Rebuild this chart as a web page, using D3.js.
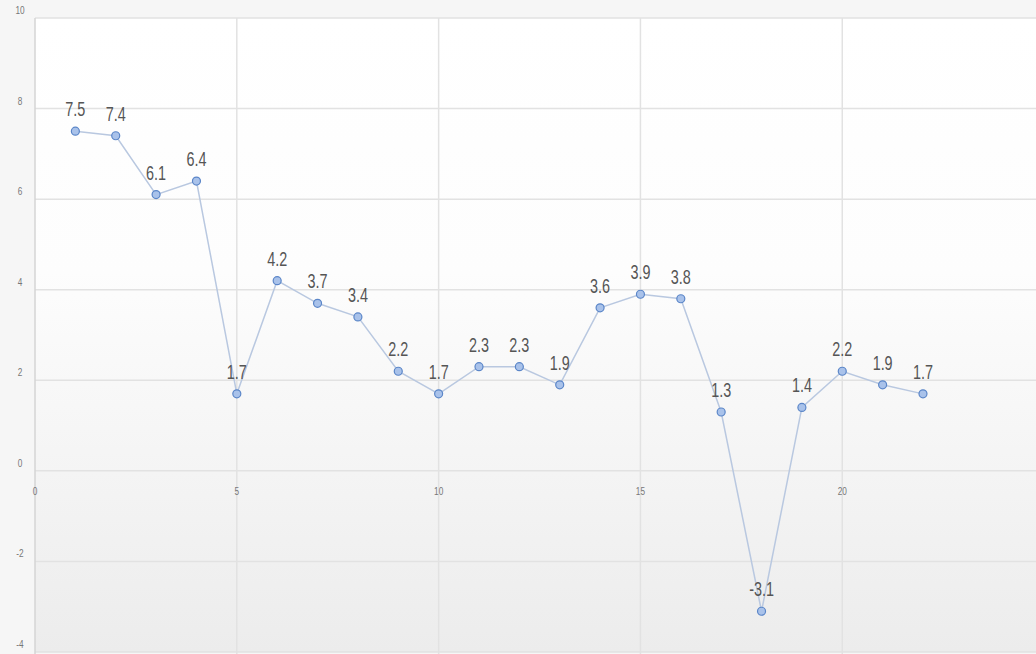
<!DOCTYPE html>
<meta charset="utf-8">
<style>
  body { margin: 0; background: #f6f6f6; }
</style>
<script src="https://d3js.org/d3.v7.min.js"></script>
<div id="chart"></div>
<script>
  // data
  var xs = [1,2,3,4,5,6,7,8,9,10,11,12,13,14,15,16,17,18,19,20,21,22];
  var values = [7.5,7.4,6.1,6.4,1.7,4.2,3.7,3.4,2.2,1.7,2.3,2.3,1.9,3.6,3.9,3.8,1.3,-3.1,1.4,2.2,1.9,1.7];
  var xTicks = [0,5,10,15,20];
  var yTicks = [-4,-2,0,2,4,6,8,10];

  var W = 1036, H = 654;
  var margin = {top: 18, right: 0, bottom: 2, left: 35};

  var svg = d3.select("#chart").append("svg")
      .attr("width", W).attr("height", H);

  var x = d3.scaleLinear().domain([0, 24.8]).range([margin.left, W - margin.right]);
  var y = d3.scaleLinear().domain([-4, 10]).range([H - margin.bottom, margin.top]);

  // background gradient
  var defs = svg.append("defs");
  var grad = defs.append("linearGradient").attr("id", "bg")
      .attr("x1", 0).attr("y1", 0).attr("x2", 0).attr("y2", 1);
  grad.append("stop").attr("offset", "0%").attr("stop-color", "#ffffff");
  grad.append("stop").attr("offset", "40%").attr("stop-color", "#fdfdfd");
  grad.append("stop").attr("offset", "100%").attr("stop-color", "#ececec");

  svg.append("rect")
      .attr("x", margin.left).attr("y", margin.top)
      .attr("width", W - margin.left - margin.right)
      .attr("height", H - margin.top - margin.bottom)
      .attr("fill", "url(#bg)");

  // grid lines
  svg.append("g").selectAll("line.h")
    .data(yTicks).enter().append("line")
      .attr("x1", margin.left).attr("x2", W)
      .attr("y1", function(d) { return y(d); })
      .attr("y2", function(d) { return y(d); })
      .attr("stroke", "#e2e2e2").attr("stroke-width", 1.5);

  svg.append("g").selectAll("line.v")
    .data(xTicks).enter().append("line")
      .attr("x1", function(d) { return x(d); })
      .attr("x2", function(d) { return x(d); })
      .attr("y1", margin.top).attr("y2", H)
      .attr("stroke", function(d) { return d === 0 ? "#d4d4d4" : "#e2e2e2"; })
      .attr("stroke-width", 1.5);

  // condensed text helper (narrow font look)
  function squeeze(sel, fx, fy, k) {
    sel.attr("transform", function(d) {
      return "translate(" + fx(d) + "," + fy(d) + ") scale(" + k + ",1)";
    });
  }

  // tick labels
  svg.append("g").selectAll("text")
    .data(yTicks).enter().append("text")
      .attr("text-anchor", "middle")
      .style("font-family", "Arial, Liberation Sans, sans-serif")
      .style("font-size", "11px").attr("fill", "#777")
      .text(function(d) { return d; })
      .call(squeeze, function() { return 20; }, function(d) { return y(d) - 4; }, 0.75);

  svg.append("g").selectAll("text")
    .data(xTicks).enter().append("text")
      .attr("text-anchor", "middle")
      .style("font-family", "Arial, Liberation Sans, sans-serif")
      .style("font-size", "11px").attr("fill", "#777")
      .text(function(d) { return d; })
      .call(squeeze, function(d) { return x(d); }, function() { return y(0) + 24; }, 0.75);

  var pts = xs.map(function(d, i) { return {x: d, v: values[i]}; });

  // line
  svg.append("path")
      .datum(pts)
      .attr("fill", "none")
      .attr("stroke", "#b9c8e0")
      .attr("stroke-width", 1.5)
      .attr("d", d3.line()
        .x(function(d) { return x(d.x); })
        .y(function(d) { return y(d.v); }));

  // points
  svg.append("g").selectAll("circle")
    .data(pts).enter().append("circle")
      .attr("cx", function(d) { return x(d.x); })
      .attr("cy", function(d) { return y(d.v); })
      .attr("r", 4)
      .attr("fill", "#a9c2ea")
      .attr("stroke", "#5b86c8")
      .attr("stroke-width", 1.2);

  // value labels
  svg.append("g").selectAll("text")
    .data(pts).enter().append("text")
      .attr("text-anchor", "middle")
      .style("font-family", "Arial, Liberation Sans, sans-serif")
      .style("font-size", "20px").attr("fill", "#555")
      .text(function(d) { return d.v; })
      .call(squeeze, function(d) { return x(d.x); }, function(d) { return y(d.v) - 15; }, 0.72);
</script>
